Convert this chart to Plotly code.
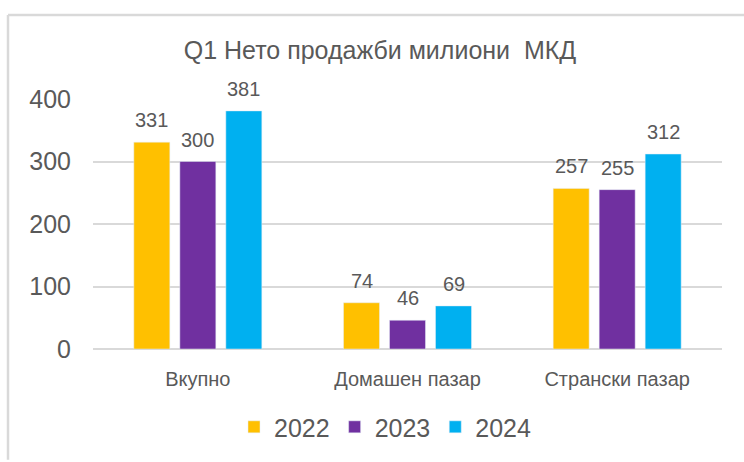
import plotly.graph_objects as go

categories = ["Вкупно", "Домашен пазар", "Странски пазар"]
years = ["2022", "2023", "2024"]
values_2022 = [331, 74, 257]
values_2023 = [300, 46, 255]
values_2024 = [381, 69, 312]
colors = ["#FFC000", "#7030A0", "#00B0F0"]
y_ticks = [0, 100, 200, 300, 400]

W, H = 744, 462
L, R, T, B = 93, 22, 99, 110
pw, ph = W - L - R, H - T - B
cat_w = pw / len(categories)
slot = 46  # px per bar slot in a group
bargap = 1 - 3 * slot / cat_w
bargroupgap = 10 / slot

def px2x(px):
    return (px - L) / pw

def py2y(py):
    return (H - B - py) / ph

fig = go.Figure()
series = [values_2022, values_2023, values_2024]
for i, (name, vals, col) in enumerate(zip(years, series, colors)):
    fig.add_trace(go.Bar(
        x=categories, y=vals, name=name, marker_color=col,
        cliponaxis=False,
    ))
    for c, v in zip(categories, vals):
        fig.add_annotation(x=c, y=v, text=str(v), showarrow=False,
                           xshift=(i - 1) * slot, yanchor="bottom", yshift=9,
                           font=dict(size=20, color="#595959"))

border = "#d9d9d9"
fig.add_shape(type="line", xref="paper", yref="paper",
              x0=px2x(8), x1=px2x(746), y0=py2y(14), y1=py2y(14),
              line=dict(color=border, width=2.5))
fig.add_shape(type="line", xref="paper", yref="paper",
              x0=px2x(8), x1=px2x(8), y0=py2y(14), y1=py2y(464),
              line=dict(color=border, width=2.5))

fig.update_layout(
    width=W, height=H,
    margin=dict(l=L, r=R, t=T, b=B),
    paper_bgcolor="white", plot_bgcolor="white",
    font=dict(family="Liberation Sans, Arial, sans-serif", color="#595959"),
    title=dict(text="Q1 Нето продажби милиони  МКД", x=380 / W, xanchor="center",
               y=1 - 50 / H, yanchor="middle", font=dict(size=25, color="#595959")),
    barmode="group", bargap=bargap, bargroupgap=bargroupgap,
    showlegend=True,
    legend=dict(orientation="h", x=px2x(385), xanchor="center", y=py2y(431), yanchor="middle",
                font=dict(size=25, color="#595959"), itemwidth=30, traceorder="normal"),
    xaxis=dict(showline=False, ticks="", tickfont=dict(size=20, color="#595959"),
               showgrid=False, ticklabelstandoff=16),
    yaxis=dict(range=[0, 400], tickvals=y_ticks, showgrid=True, gridcolor="#d9d9d9",
               gridwidth=2, zeroline=True, zerolinecolor="#d9d9d9", zerolinewidth=2,
               tickfont=dict(size=25, color="#595959"), ticks="", showline=False,
               ticklabelstandoff=21),
)

fig.write_html("out.html", post_script="document.body.style.margin='0';",
               config={"displayModeBar": False})
